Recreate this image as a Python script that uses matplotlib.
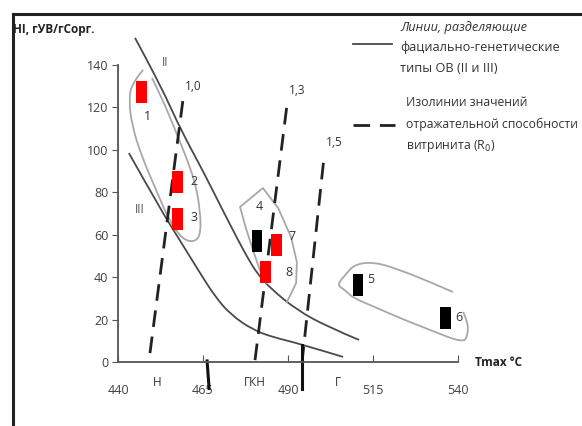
import matplotlib
matplotlib.use("Agg")
import matplotlib.pyplot as plt
from matplotlib.lines import Line2D
from matplotlib.path import Path
from matplotlib.patches import PathPatch

plt.rcParams['font.family'] = ['Open Sans', 'DejaVu Sans']

# ---- data ----
sample_ids = ['1', '2', '3', '4', '7', '8', '5', '6']
tmax = [446.8, 457.6, 457.6, 480.9, 486.5, 483.5, 510.6, 536.2]
hi = [127.4, 84.9, 67.5, 57.1, 55.2, 42.5, 36.3, 20.8]
colors = ['#ff0000', '#ff0000', '#ff0000', '#000000', '#ff0000', '#ff0000', '#000000', '#000000']

line2_x = [445.0, 448.5, 453.8, 458.5, 465.3, 470.3, 475.3, 478.0, 481.0, 485.0, 492.6, 501.8, 510.9]
line2_y = [152.8, 142.4, 125.9, 109.4, 89.1, 73.1, 57.5, 49.5, 41.5, 34.5, 24.5, 16.5, 10.4]
line3_x = [443.2, 452.6, 457.6, 464.1, 468.5, 473.0, 479.7, 486.0, 492.6, 506.2]
line3_y = [98.5, 71.7, 58.9, 42.0, 31.0, 22.5, 15.1, 11.5, 9.0, 2.4]

grp1_x = [450.0, 453.2, 456.8, 460.4, 462.9, 464.1, 464.4, 462.9, 459.1, 455.0, 451.2, 446.8, 444.1, 443.2, 444.1, 447.4]
grp1_y = [133.9, 123.5, 109.4, 95.2, 83.4, 71.6, 61.3, 56.6, 57.5, 66.9, 81.1, 97.6, 111.7, 123.5, 131.5, 137.7]
grp4_x = [489.7, 492.4, 492.6, 490.9, 487.1, 482.6, 475.9, 477.6, 479.7, 481.5, 483.5]
grp4_y = [28.3, 37.2, 47.1, 58.9, 72.6, 82.0, 73.1, 63.2, 52.8, 44.3, 37.2]
grp5_x = [538.5, 531.8, 522.9, 515.6, 509.7, 506.8, 504.4, 506.8, 509.1, 515.6, 522.9, 531.8, 541.5, 542.9, 542.9, 541.5]
grp5_y = [33.0, 37.7, 43.4, 47.1, 46.2, 41.0, 36.3, 33.9, 30.2, 25.9, 20.7, 15.1, 9.0, 12.7, 18.9, 23.6]

ro_labels = ['1,0', '1,3', '1,5']
ro_x = [[449.4, 459.1], [480.3, 489.7], [494.1, 500.6]]
ro_y = [[4.2, 123.5], [0.9, 121.2], [-0.5, 96.7]]

x_ticks = [440, 465, 490, 515, 540]
y_ticks = [0, 20, 40, 60, 80, 100, 120, 140]
zones = ['Н', 'ГКН', 'Г']
zone_x = [451.5, 480.3, 504.7]
zone_bounds = [466.2, 494.1]

W, H = 582, 426
fig = plt.figure(figsize=(W / 100, H / 100), dpi=100)
ax = fig.add_axes([118 / W, (H - 362) / H, 340 / W, (362 - 65) / H])
ax.set_xlim(440, 540)
ax.set_ylim(0, 140)
ax.patch.set_alpha(0)

for s in ['top', 'right']:
    ax.spines[s].set_visible(False)
for s in ['left', 'bottom']:
    ax.spines[s].set_color('#555555')
    ax.spines[s].set_linewidth(1.3)

ax.set_xticks(x_ticks)
ax.set_yticks(y_ticks)
ax.tick_params(axis='x', direction='in', length=5, color='#555555', pad=16,
               labelsize=9, labelcolor='#404040')
ax.tick_params(axis='y', direction='out', length=4, color='#555555', pad=3,
               labelsize=9, labelcolor='#404040')


def smooth_curve(xs, ys, **kw):
    """Draw a smooth quadratic B-spline curve guided by the given points."""
    pts = list(zip(xs, ys))
    verts = [pts[0]]
    codes = [Path.MOVETO]
    n = len(pts)
    for i in range(1, n - 1):
        ctrl = pts[i]
        if i < n - 2:
            end = ((pts[i][0] + pts[i + 1][0]) / 2, (pts[i][1] + pts[i + 1][1]) / 2)
        else:
            end = pts[n - 1]
        verts += [ctrl, end]
        codes += [Path.CURVE3, Path.CURVE3]
    patch = PathPatch(Path(verts, codes), fill=False, clip_on=False,
                      transform=ax.transData, **kw)
    ax.add_patch(patch)


dark = '#4a4a4a'
light = '#a8a8a8'
smooth_curve(line2_x, line2_y, edgecolor=dark, lw=1.3)
smooth_curve(line3_x, line3_y, edgecolor=dark, lw=1.3)
smooth_curve(grp1_x, grp1_y, edgecolor=light, lw=1.3)
ax.plot(grp4_x, grp4_y, color=light, lw=1.3, clip_on=False)
smooth_curve(grp5_x, grp5_y, edgecolor=light, lw=1.3)

for lab, xs, ys in zip(ro_labels, ro_x, ro_y):
    ax.plot(xs, ys, color='#222222', lw=2.0, dashes=(6, 3.5), clip_on=False)
    ax.annotate(lab, (xs[1], ys[1]), xytext=(10, 14), textcoords='offset pixels',
                ha='center', va='center', fontsize=8.5, color='#333333')

# markers: rectangles as bars
mw, mh = 3.2, 10.4
ax.bar(tmax, [mh] * len(hi), bottom=[v - mh / 2 for v in hi], width=mw,
       color=colors, zorder=5, clip_on=False)

offsets = {'1': (6, -25), '2': (16, 0), '3': (16, 1), '4': (2, 34),
           '7': (16, 8), '8': (23, -1), '5': (13, 5), '6': (14, 0)}
for sid, xv, yv in zip(sample_ids, tmax, hi):
    ax.annotate(sid, (xv, yv), xytext=offsets[sid], textcoords='offset pixels',
                ha='center', va='center', fontsize=9, color='#333333')

ax.text(453.8, 141.4, 'II', fontsize=8.5, color='#555555', ha='center', va='center')
ax.text(446.5, 71.7, 'III', fontsize=8.5, color='#555555', ha='center', va='center')

for zl, zx in zip(zones, zone_x):
    ax.text(zx, -9.8, zl, fontsize=8.5, color='#333333', ha='center', va='center',
            clip_on=False)
ax.plot([zone_bounds[0], zone_bounds[0] + 0.6], [0.5, -12.5], color='#111111', lw=2.2,
        clip_on=False)
ax.plot([zone_bounds[1], zone_bounds[1]], [8, -12.5], color='#111111', lw=2.2,
        clip_on=False)


def fx(px):
    return px / W


def fy(py):
    return 1 - py / H


# frame
fig.add_artist(Line2D([fx(13), fx(582)], [fy(14), fy(14)], color='#222222', lw=2.2))
fig.add_artist(Line2D([fx(13), fx(13)], [fy(14), fy(426)], color='#222222', lw=2.2))

fig.text(fx(13), fy(30), 'HI, гУВ/гСорг.', fontsize=8.5, fontweight='bold',
         color='#222222', ha='left', va='center')
fig.text(fx(475), fy(362), 'Tmax °C', fontsize=8.5, fontweight='bold',
         color='#222222', ha='left', va='center')

# legend
fig.add_artist(Line2D([fx(353), fx(392)], [fy(44), fy(44)], color=dark, lw=1.3))
fig.add_artist(Line2D([fx(353), fx(395)], [fy(125), fy(125)], color='#222222', lw=2.0,
                      dashes=(6, 3.5)))
leg1 = ['Линии, разделяющие', 'фациально-генетические', 'типы ОВ (II и III)']
for t, py in zip(leg1, [27, 48, 68]):
    fig.text(fx(400), fy(py), t, fontsize=9.2, color='#333333', ha='left', va='center',
             style='italic' if py == 27 else 'normal')
leg2 = ['Изолинии значений', 'отражательной способности', 'витринита (R$_0$)']
for t, py in zip(leg2, [103, 124, 146]):
    fig.text(fx(406), fy(py), t, fontsize=8.8, color='#333333', ha='left', va='center')

fig.savefig('out.png', dpi=100)
